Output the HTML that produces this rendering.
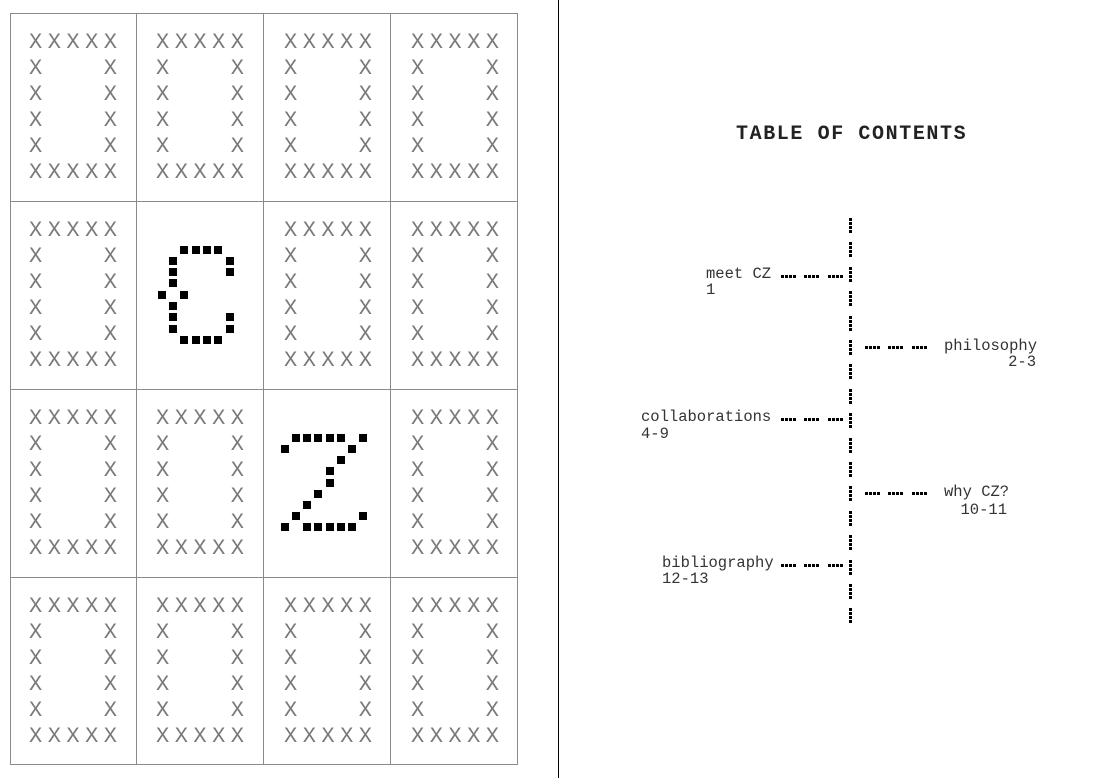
<!DOCTYPE html>
<html><head><meta charset="utf-8">
<style>
html,body{margin:0;padding:0;background:#fff;}
svg{display:block;}
.x{font-family:"Liberation Mono",monospace;font-size:22px;fill:#7a7a7a;}
.lb{font-family:"Liberation Mono",monospace;font-size:15.5px;fill:#333;}
.tt{font-family:"Liberation Mono",monospace;font-size:20px;font-weight:bold;fill:#222;letter-spacing:1.6px;}
</style></head>
<body>
<svg width="1116" height="778" viewBox="0 0 1116 778" xmlns="http://www.w3.org/2000/svg">
<rect width="1116" height="778" fill="#fff"/>
<g stroke="#8a8a8a" stroke-width="1" fill="none">
<rect x="10.5" y="13.5" width="507" height="751"/>
<line x1="136.5" y1="13" x2="136.5" y2="765"/>
<line x1="263.5" y1="13" x2="263.5" y2="765"/>
<line x1="390.5" y1="13" x2="390.5" y2="765"/>
<line x1="10" y1="201.5" x2="517" y2="201.5"/>
<line x1="10" y1="389.5" x2="517" y2="389.5"/>
<line x1="10" y1="577.5" x2="517" y2="577.5"/>
</g>
<line x1="558.5" y1="0" x2="558.5" y2="778" stroke="#000" stroke-width="1"/>

<g class="x">
<g transform="translate(29,13)"><text x="0 18.7 37.4 56.1 74.8" y="35">XXXXX</text><text x="0 74.8" y="61">XX</text><text x="0 74.8" y="87">XX</text><text x="0 74.8" y="113">XX</text><text x="0 74.8" y="139">XX</text><text x="0 18.7 37.4 56.1 74.8" y="165">XXXXX</text></g>
<g transform="translate(156,13)"><text x="0 18.7 37.4 56.1 74.8" y="35">XXXXX</text><text x="0 74.8" y="61">XX</text><text x="0 74.8" y="87">XX</text><text x="0 74.8" y="113">XX</text><text x="0 74.8" y="139">XX</text><text x="0 18.7 37.4 56.1 74.8" y="165">XXXXX</text></g>
<g transform="translate(284,13)"><text x="0 18.7 37.4 56.1 74.8" y="35">XXXXX</text><text x="0 74.8" y="61">XX</text><text x="0 74.8" y="87">XX</text><text x="0 74.8" y="113">XX</text><text x="0 74.8" y="139">XX</text><text x="0 18.7 37.4 56.1 74.8" y="165">XXXXX</text></g>
<g transform="translate(411,13)"><text x="0 18.7 37.4 56.1 74.8" y="35">XXXXX</text><text x="0 74.8" y="61">XX</text><text x="0 74.8" y="87">XX</text><text x="0 74.8" y="113">XX</text><text x="0 74.8" y="139">XX</text><text x="0 18.7 37.4 56.1 74.8" y="165">XXXXX</text></g>
<g transform="translate(29,201)"><text x="0 18.7 37.4 56.1 74.8" y="35">XXXXX</text><text x="0 74.8" y="61">XX</text><text x="0 74.8" y="87">XX</text><text x="0 74.8" y="113">XX</text><text x="0 74.8" y="139">XX</text><text x="0 18.7 37.4 56.1 74.8" y="165">XXXXX</text></g>
<g transform="translate(284,201)"><text x="0 18.7 37.4 56.1 74.8" y="35">XXXXX</text><text x="0 74.8" y="61">XX</text><text x="0 74.8" y="87">XX</text><text x="0 74.8" y="113">XX</text><text x="0 74.8" y="139">XX</text><text x="0 18.7 37.4 56.1 74.8" y="165">XXXXX</text></g>
<g transform="translate(411,201)"><text x="0 18.7 37.4 56.1 74.8" y="35">XXXXX</text><text x="0 74.8" y="61">XX</text><text x="0 74.8" y="87">XX</text><text x="0 74.8" y="113">XX</text><text x="0 74.8" y="139">XX</text><text x="0 18.7 37.4 56.1 74.8" y="165">XXXXX</text></g>
<g transform="translate(29,389)"><text x="0 18.7 37.4 56.1 74.8" y="35">XXXXX</text><text x="0 74.8" y="61">XX</text><text x="0 74.8" y="87">XX</text><text x="0 74.8" y="113">XX</text><text x="0 74.8" y="139">XX</text><text x="0 18.7 37.4 56.1 74.8" y="165">XXXXX</text></g>
<g transform="translate(156,389)"><text x="0 18.7 37.4 56.1 74.8" y="35">XXXXX</text><text x="0 74.8" y="61">XX</text><text x="0 74.8" y="87">XX</text><text x="0 74.8" y="113">XX</text><text x="0 74.8" y="139">XX</text><text x="0 18.7 37.4 56.1 74.8" y="165">XXXXX</text></g>
<g transform="translate(411,389)"><text x="0 18.7 37.4 56.1 74.8" y="35">XXXXX</text><text x="0 74.8" y="61">XX</text><text x="0 74.8" y="87">XX</text><text x="0 74.8" y="113">XX</text><text x="0 74.8" y="139">XX</text><text x="0 18.7 37.4 56.1 74.8" y="165">XXXXX</text></g>
<g transform="translate(29,577)"><text x="0 18.7 37.4 56.1 74.8" y="35">XXXXX</text><text x="0 74.8" y="61">XX</text><text x="0 74.8" y="87">XX</text><text x="0 74.8" y="113">XX</text><text x="0 74.8" y="139">XX</text><text x="0 18.7 37.4 56.1 74.8" y="165">XXXXX</text></g>
<g transform="translate(156,577)"><text x="0 18.7 37.4 56.1 74.8" y="35">XXXXX</text><text x="0 74.8" y="61">XX</text><text x="0 74.8" y="87">XX</text><text x="0 74.8" y="113">XX</text><text x="0 74.8" y="139">XX</text><text x="0 18.7 37.4 56.1 74.8" y="165">XXXXX</text></g>
<g transform="translate(284,577)"><text x="0 18.7 37.4 56.1 74.8" y="35">XXXXX</text><text x="0 74.8" y="61">XX</text><text x="0 74.8" y="87">XX</text><text x="0 74.8" y="113">XX</text><text x="0 74.8" y="139">XX</text><text x="0 18.7 37.4 56.1 74.8" y="165">XXXXX</text></g>
<g transform="translate(411,577)"><text x="0 18.7 37.4 56.1 74.8" y="35">XXXXX</text><text x="0 74.8" y="61">XX</text><text x="0 74.8" y="87">XX</text><text x="0 74.8" y="113">XX</text><text x="0 74.8" y="139">XX</text><text x="0 18.7 37.4 56.1 74.8" y="165">XXXXX</text></g>
</g>

<g fill="#000">
<rect x="180" y="246" width="8" height="8"/><rect x="192" y="246" width="8" height="8"/><rect x="203" y="246" width="8" height="8"/><rect x="214" y="246" width="8" height="8"/>
<rect x="169" y="257" width="8" height="8"/><rect x="226" y="257" width="8" height="8"/>
<rect x="169" y="268" width="8" height="8"/><rect x="226" y="268" width="8" height="8"/>
<rect x="169" y="279" width="8" height="8"/>
<rect x="158" y="291" width="8" height="8"/><rect x="180" y="291" width="8" height="8"/>
<rect x="169" y="302" width="8" height="8"/>
<rect x="169" y="313" width="8" height="8"/><rect x="226" y="313" width="8" height="8"/>
<rect x="169" y="325" width="8" height="8"/><rect x="226" y="325" width="8" height="8"/>
<rect x="180" y="336" width="8" height="8"/><rect x="192" y="336" width="8" height="8"/><rect x="203" y="336" width="8" height="8"/><rect x="214" y="336" width="8" height="8"/>
</g>
<g fill="#000">
<rect x="292" y="434" width="8" height="8"/><rect x="303" y="434" width="8" height="8"/><rect x="314" y="434" width="8" height="8"/><rect x="326" y="434" width="8" height="8"/><rect x="337" y="434" width="8" height="8"/><rect x="359" y="434" width="8" height="8"/>
<rect x="281" y="445" width="8" height="8"/><rect x="348" y="445" width="8" height="8"/>
<rect x="337" y="456" width="8" height="8"/>
<rect x="326" y="467" width="8" height="8"/>
<rect x="326" y="479" width="8" height="8"/>
<rect x="314" y="490" width="8" height="8"/>
<rect x="303" y="501" width="8" height="8"/>
<rect x="292" y="512" width="8" height="8"/><rect x="359" y="512" width="8" height="8"/>
<rect x="281" y="523" width="8" height="8"/><rect x="303" y="523" width="8" height="8"/><rect x="314" y="523" width="8" height="8"/><rect x="326" y="523" width="8" height="8"/><rect x="337" y="523" width="8" height="8"/><rect x="348" y="523" width="8" height="8"/>
</g>

<text class="tt" x="736" y="139">TABLE OF CONTENTS</text>

<g stroke="#000" stroke-width="3" stroke-dasharray="3 1">
<line x1="850.5" y1="218" x2="850.5" y2="233"/>
<line x1="850.5" y1="242" x2="850.5" y2="257"/>
<line x1="850.5" y1="267" x2="850.5" y2="282"/>
<line x1="850.5" y1="291" x2="850.5" y2="306"/>
<line x1="850.5" y1="316" x2="850.5" y2="331"/>
<line x1="850.5" y1="340" x2="850.5" y2="355"/>
<line x1="850.5" y1="364" x2="850.5" y2="379"/>
<line x1="850.5" y1="389" x2="850.5" y2="404"/>
<line x1="850.5" y1="413" x2="850.5" y2="428"/>
<line x1="850.5" y1="438" x2="850.5" y2="453"/>
<line x1="850.5" y1="462" x2="850.5" y2="477"/>
<line x1="850.5" y1="486" x2="850.5" y2="501"/>
<line x1="850.5" y1="511" x2="850.5" y2="526"/>
<line x1="850.5" y1="535" x2="850.5" y2="550"/>
<line x1="850.5" y1="560" x2="850.5" y2="575"/>
<line x1="850.5" y1="584" x2="850.5" y2="599"/>
<line x1="850.5" y1="608" x2="850.5" y2="623"/>
</g>

<g stroke="#000" stroke-width="3" stroke-dasharray="3 1">
<line x1="781" y1="276.5" x2="796" y2="276.5"/><line x1="804" y1="276.5" x2="819" y2="276.5"/><line x1="828" y1="276.5" x2="843" y2="276.5"/>
<line x1="865" y1="347.5" x2="880" y2="347.5"/><line x1="888" y1="347.5" x2="903" y2="347.5"/><line x1="912" y1="347.5" x2="927" y2="347.5"/>
<line x1="781" y1="419.5" x2="796" y2="419.5"/><line x1="804" y1="419.5" x2="819" y2="419.5"/><line x1="828" y1="419.5" x2="843" y2="419.5"/>
<line x1="865" y1="493.5" x2="880" y2="493.5"/><line x1="888" y1="493.5" x2="903" y2="493.5"/><line x1="912" y1="493.5" x2="927" y2="493.5"/>
<line x1="781" y1="565.5" x2="796" y2="565.5"/><line x1="804" y1="565.5" x2="819" y2="565.5"/><line x1="828" y1="565.5" x2="843" y2="565.5"/>
</g>

<text class="lb" x="706" y="278">meet CZ</text>
<text class="lb" x="706" y="294">1</text>
<text class="lb" x="944" y="350">philosophy</text>
<text class="lb" x="1036" y="366" text-anchor="end">2-3</text>
<text class="lb" x="641" y="421">collaborations</text>
<text class="lb" x="641" y="438">4-9</text>
<text class="lb" x="944" y="496">why CZ?</text>
<text class="lb" x="1007" y="514" text-anchor="end">10-11</text>
<text class="lb" x="662" y="567">bibliography</text>
<text class="lb" x="662" y="583">12-13</text>
</svg>
</body></html>
